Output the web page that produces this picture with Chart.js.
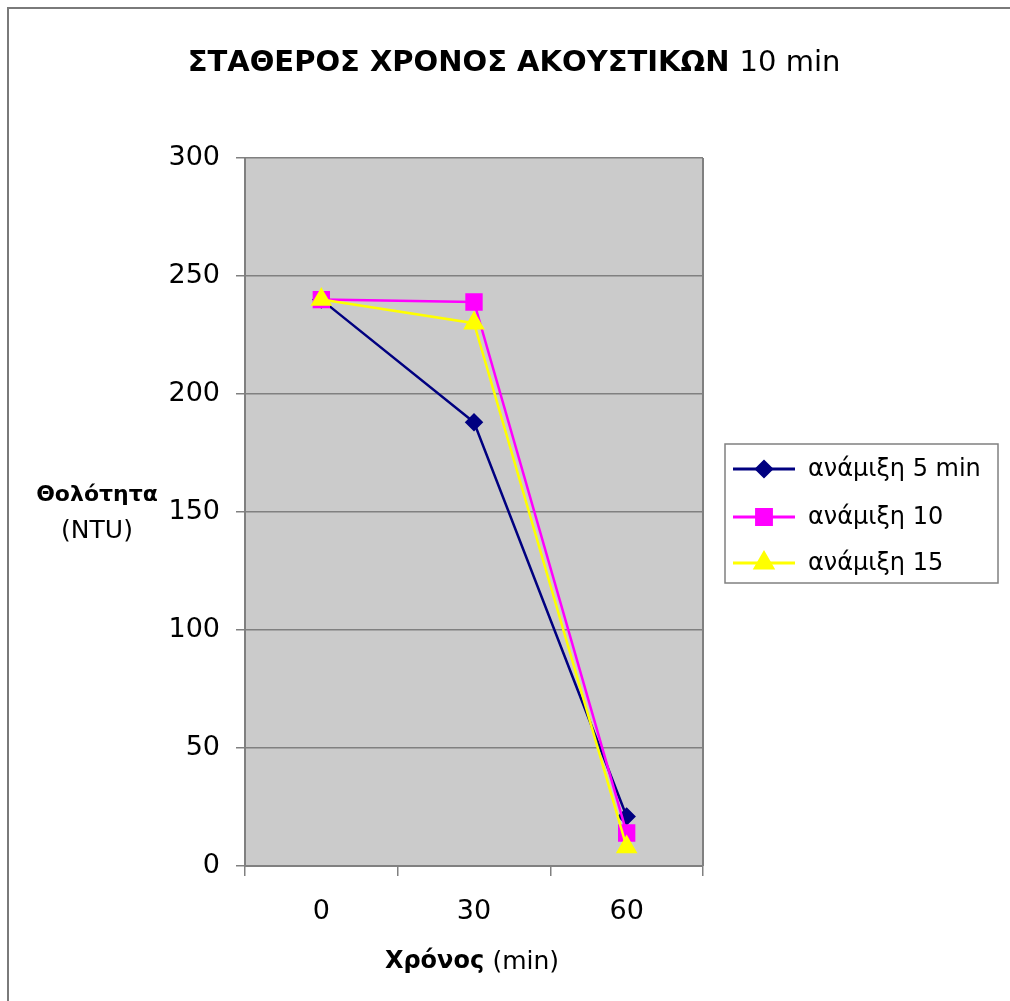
<!DOCTYPE html>
<html>
<head>
<meta charset="utf-8">
<script src="https://cdn.jsdelivr.net/npm/chart.js@4/dist/chart.umd.min.js"></script>
<style>
  html, body { margin: 0; padding: 0; background: #fff; }
  #wrap { width: 1010px; height: 1001px; position: relative; }
</style>
</head>
<body>
<div id="wrap"><canvas id="chart" width="1010" height="1001"></canvas></div>
<script>
'use strict';

// data
const times = ['0', '30', '60'];
const mix5 = [240, 188, 21];
const mix10 = [240, 239, 14];
const mix15 = [240, 230, 8];
const seriesNames = ['ανάμιξη 5 min', 'ανάμιξη 10', 'ανάμιξη 15'];
const seriesColors = ['#000080', '#ff00ff', '#ffff00'];
const seriesMarkers = ['rectRot', 'rect', 'triangle'];
const markerSizes = [7.5, 10.5, 10];

const FONT = '"DejaVu Sans", Verdana, sans-serif';

// background, frame, titles and legend
const decor = {
  id: 'decor',
  beforeDraw(chart) {
    const ctx = chart.ctx;
    const a = chart.chartArea;
    ctx.save();
    ctx.fillStyle = '#cbcbcb';
    ctx.fillRect(a.left, a.top, a.right - a.left, a.bottom - a.top);
    ctx.strokeStyle = '#808080';
    ctx.lineWidth = 2;
    ctx.beginPath();
    ctx.moveTo(a.right, a.top);
    ctx.lineTo(a.right, a.bottom);
    ctx.stroke();
    // outer frame
    ctx.strokeStyle = '#7a7a7a';
    ctx.beginPath();
    ctx.moveTo(8, 1001);
    ctx.lineTo(8, 8);
    ctx.lineTo(1010, 8);
    ctx.stroke();
    ctx.restore();
  },
  afterDraw(chart) {
    const ctx = chart.ctx;
    ctx.save();
    ctx.fillStyle = '#000';
    ctx.textBaseline = 'middle';

    // main title, bold part + normal part
    let p1 = 'ΣΤΑΘΕΡΟΣ ΧΡΟΝΟΣ ΑΚΟΥΣΤΙΚΩΝ ';
    let p2 = '10 min';
    ctx.font = 'bold 29px ' + FONT;
    let w1 = ctx.measureText(p1).width;
    ctx.font = '29px ' + FONT;
    let w2 = ctx.measureText(p2).width;
    let x0 = 514 - (w1 + w2) / 2;
    ctx.textAlign = 'left';
    ctx.font = 'bold 29px ' + FONT;
    ctx.fillText(p1, x0, 63);
    ctx.font = '29px ' + FONT;
    ctx.fillText(p2, x0 + w1, 63);

    // y title
    ctx.textAlign = 'center';
    ctx.font = 'bold 22px ' + FONT;
    ctx.fillText('Θολότητα', 97, 495);
    ctx.font = '25px ' + FONT;
    ctx.fillText('(NTU)', 97, 531);

    // x title
    p1 = 'Χρόνος ';
    p2 = '(min)';
    ctx.font = 'bold 24px ' + FONT;
    w1 = ctx.measureText(p1).width;
    ctx.font = '25px ' + FONT;
    w2 = ctx.measureText(p2).width;
    x0 = 472 - (w1 + w2) / 2;
    ctx.textAlign = 'left';
    ctx.font = 'bold 24px ' + FONT;
    ctx.fillText(p1, x0, 962);
    ctx.font = '25px ' + FONT;
    ctx.fillText(p2, x0 + w1, 962);

    // legend box
    ctx.strokeStyle = '#808080';
    ctx.lineWidth = 1.5;
    ctx.strokeRect(725, 444, 273, 139);
    const rows = [469, 517, 563];
    chart.data.datasets.forEach((ds, i) => {
      const y = rows[i];
      ctx.strokeStyle = ds.borderColor;
      ctx.lineWidth = 3;
      ctx.beginPath();
      ctx.moveTo(733, y);
      ctx.lineTo(795, y);
      ctx.stroke();
      Chart.helpers.drawPoint(ctx, {
        pointStyle: ds.pointStyle,
        radius: ds.pointRadius,
        borderWidth: 1
      }, 764, y);
      ctx.fillStyle = ds.borderColor;
      ctx.fill();
      ctx.fillStyle = '#000';
      ctx.font = '24px ' + FONT;
      ctx.textAlign = 'left';
      ctx.fillText(ds.label, 808, y + 1);
    });
    ctx.restore();
  }
};

const seriesValues = [mix5, mix10, mix15];
const datasets = seriesValues.map((vals, i) => ({
  label: seriesNames[i],
  data: vals,
  borderColor: seriesColors[i],
  backgroundColor: seriesColors[i],
  pointBackgroundColor: seriesColors[i],
  pointBorderColor: seriesColors[i],
  pointStyle: seriesMarkers[i],
  pointRadius: markerSizes[i],
  pointHoverRadius: markerSizes[i],
  borderWidth: 2.5,
  tension: 0,
  order: 3 - i
}));

new Chart(document.getElementById('chart'), {
  type: 'line',
  data: { labels: times, datasets: datasets },
  options: {
    responsive: false,
    animation: false,
    layout: { padding: { top: 158, right: 307, left: 0, bottom: 0 } },
    plugins: {
      legend: { display: false },
      title: { display: false },
      tooltip: { enabled: false }
    },
    scales: {
      x: {
        offset: true,
        afterFit: (s) => { s.height = 135; },
        grid: {
          offset: true,
          drawOnChartArea: false,
          drawTicks: true,
          tickLength: 10,
          color: '#808080',
          lineWidth: 1.5
        },
        border: { color: '#808080', width: 2 },
        ticks: { color: '#000', font: { family: FONT, size: 27 }, padding: 20, maxRotation: 0 }
      },
      y: {
        min: 0,
        max: 300,
        afterFit: (s) => { s.width = 245; },
        grid: {
          color: '#808080',
          lineWidth: 1.5,
          tickLength: 9
        },
        border: { color: '#808080', width: 2 },
        ticks: { stepSize: 50, color: '#000', font: { family: FONT, size: 27 }, padding: 16 }
      }
    }
  },
  plugins: [decor]
});
</script>
</body>
</html>
